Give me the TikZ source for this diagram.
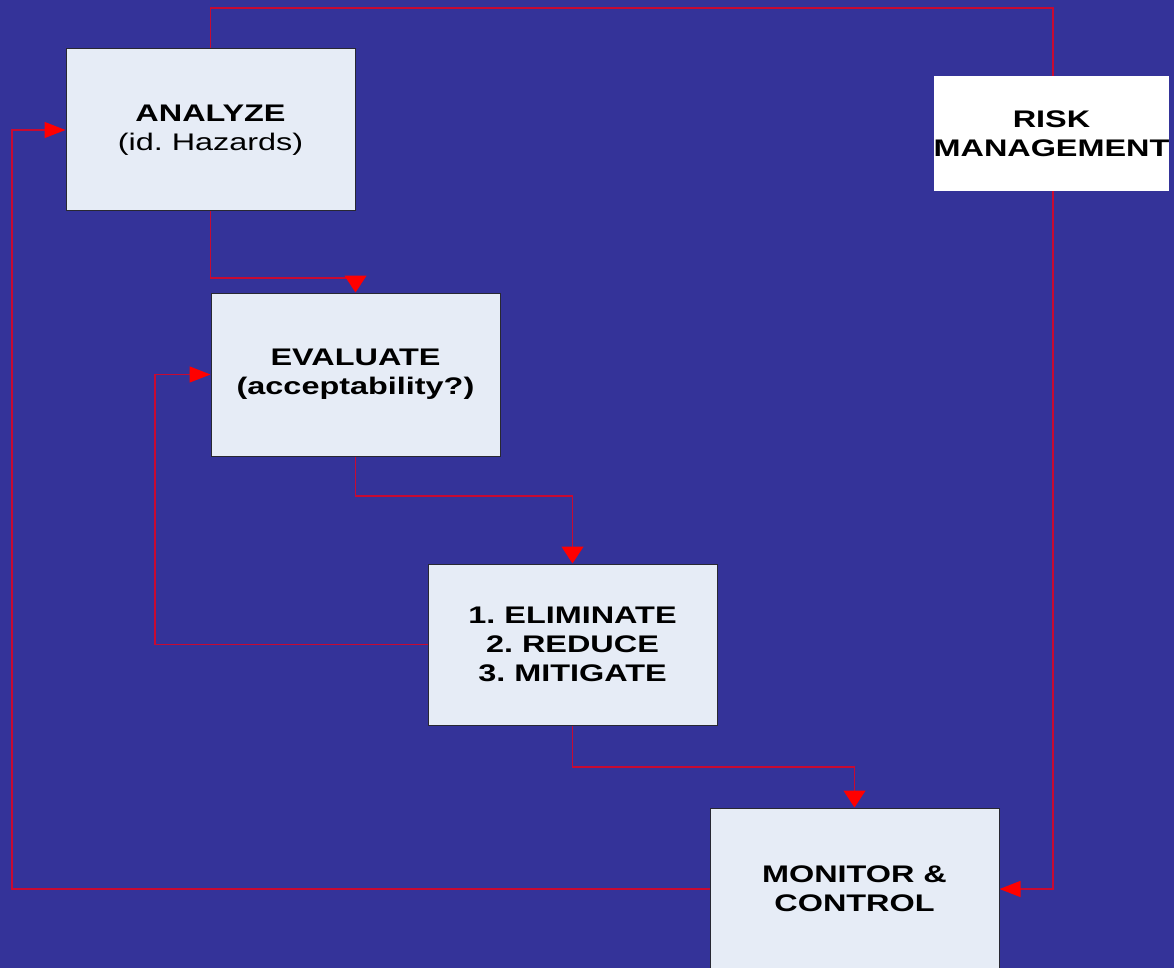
\documentclass[tikz,border=0pt]{standalone}
\usepackage{fontspec}
\setmainfont{Liberation Sans}[FakeStretch=1.35]
\usetikzlibrary{arrows.meta}
\definecolor{bgblue}{RGB}{52,51,153}
\definecolor{boxfill}{RGB}{230,236,246}
\definecolor{boxline}{RGB}{40,40,50}
\definecolor{linered}{RGB}{200,10,50}
\pgfdeclarelayer{bg}
\pgfdeclarelayer{wires}
\pgfsetlayers{bg,wires,main}
\frenchspacing
\tikzset{
  stepbox/.style={draw=boxline, fill=boxfill, line width=1pt, inner sep=0pt, align=center,
    minimum width=289pt, font=\fontsize{24}{29}\selectfont\frenchspacing},
  riskbox/.style={fill=white, inner sep=0pt, align=center, minimum width=235pt, minimum height=115pt,
    font=\fontsize{24}{29}\selectfont\bfseries},
  wire/.style={draw=linered, line width=1.3pt},
  harrow/.style={wire, -{Triangle[length=21pt,width=16pt,fill=red,color=red]}},
  varrow/.style={wire, -{Triangle[length=17pt,width=22pt,fill=red,color=red]}}
}
\begin{document}
\begin{tikzpicture}[x=1pt,y=1pt]
\begin{pgfonlayer}{bg}
\fill[bgblue] (0,0) rectangle (1174,-968);
\end{pgfonlayer}
\useasboundingbox (0,0) rectangle (1174,-968);

\node[stepbox, minimum height=162pt] (an) at (210.5,-130) {\textbf{ANALYZE}\\(id. Hazards)};
\node[stepbox, minimum height=163pt] (ev) at (355.5,-374.5) {\textbf{EVALUATE}\\\textbf{(acceptability?)}};
\node[stepbox, minimum height=161pt] (el) at (572.5,-644.5) {\textbf{1. ELIMINATE}\\\textbf{2. REDUCE}\\\textbf{3. MITIGATE}};
\node[stepbox, minimum height=162pt] (mo) at (854.5,-889) {\textbf{MONITOR \&}\\\textbf{CONTROL}};
\node[riskbox] (rk) at (1051.5,-133.5) {RISK\\MANAGEMENT};

\coordinate (topl) at (210.5,-8);
\coordinate (topr) at (1053,-8);
\coordinate (botr) at (1053,-889);
\coordinate (botl) at (12,-889);
\coordinate (b1) at (210.5,-278);
\coordinate (b2) at (355.5,-496);
\coordinate (b3) at (572.5,-767);
\coordinate (fb) at (155,-644.5);

\begin{pgfonlayer}{wires}
\draw[harrow] (an.north) -- (topl) -- (topr) -- (botr) -- (mo.east);
\draw[harrow] (mo.west) -- (botl) |- (an.west);
\draw[varrow] (an.south) -- (b1) -| (ev.north);
\draw[varrow] (ev.south) -- (b2) -| (el.north);
\draw[harrow] (el.west) -- (fb) |- (ev.west);
\draw[varrow] (el.south) -- (b3) -| (mo.north);
\end{pgfonlayer}
\end{tikzpicture}
\end{document}
